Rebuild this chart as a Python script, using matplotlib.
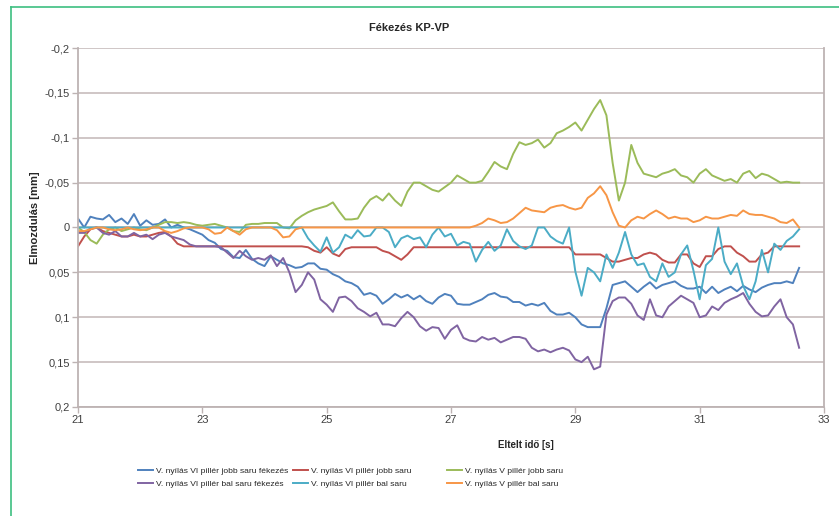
import numpy as np
import matplotlib
matplotlib.use('Agg')
import matplotlib.pyplot as plt
from matplotlib.lines import Line2D
from matplotlib.ticker import FuncFormatter

plt.rcParams['font.family'] = ['Liberation Sans', 'DejaVu Sans']

# time axis, one reading every 0.1 s
t = np.round(np.arange(21.0, 32.61, 0.1), 1)

# displacements in mm (negative = upwards)
jobb_fek = [-0.010, 0.000, -0.012, -0.010, -0.009, -0.014, -0.006, -0.010, -0.004, -0.015,
            -0.002, -0.008, -0.003, -0.004, -0.009, 0.000, -0.003, 0.000, 0.002, 0.005,
            0.008, 0.014, 0.017, 0.024, 0.026, 0.033, 0.034, 0.025, 0.035, 0.040,
            0.043, 0.032, 0.036, 0.040, 0.042, 0.045, 0.044, 0.040, 0.040, 0.046,
            0.047, 0.052, 0.055, 0.060, 0.062, 0.066, 0.075, 0.073, 0.076, 0.085,
            0.080, 0.074, 0.078, 0.075, 0.080, 0.076, 0.082, 0.085, 0.078, 0.074,
            0.076, 0.085, 0.086, 0.086, 0.083, 0.080, 0.075, 0.073, 0.077, 0.078,
            0.083, 0.083, 0.087, 0.085, 0.087, 0.084, 0.093, 0.097, 0.097, 0.095,
            0.100, 0.108, 0.111, 0.111, 0.111, 0.090, 0.064, 0.062, 0.060, 0.066,
            0.072, 0.066, 0.061, 0.068, 0.064, 0.062, 0.060, 0.065, 0.068, 0.068,
            0.066, 0.073, 0.066, 0.073, 0.069, 0.066, 0.071, 0.065, 0.069, 0.072,
            0.067, 0.064, 0.062, 0.062, 0.060, 0.062, 0.045]

jobb_vi = [0.021, 0.010, 0.002, 0.000, 0.004, 0.006, 0.008, 0.010, 0.010, 0.008,
           0.010, 0.010, 0.008, 0.006, 0.005, 0.010, 0.018, 0.021, 0.021, 0.021,
           0.021, 0.021, 0.021, 0.021, 0.021, 0.021, 0.021, 0.021, 0.021, 0.021,
           0.021, 0.021, 0.021, 0.021, 0.021, 0.021, 0.021, 0.022, 0.026, 0.028,
           0.022, 0.029, 0.032, 0.024, 0.022, 0.022, 0.022, 0.022, 0.022, 0.026,
           0.028, 0.032, 0.036, 0.030, 0.022, 0.022, 0.022, 0.022, 0.022, 0.022,
           0.022, 0.022, 0.022, 0.022, 0.022, 0.022, 0.022, 0.022, 0.022, 0.022,
           0.022, 0.022, 0.022, 0.022, 0.022, 0.022, 0.022, 0.022, 0.022, 0.022,
           0.030, 0.030, 0.030, 0.030, 0.030, 0.034, 0.038, 0.038, 0.036, 0.034,
           0.034, 0.030, 0.028, 0.030, 0.036, 0.039, 0.039, 0.030, 0.030, 0.040,
           0.044, 0.032, 0.032, 0.024, 0.021, 0.021, 0.028, 0.032, 0.038, 0.038,
           0.030, 0.028, 0.021, 0.021, 0.021, 0.021, 0.021]

jobb_v = [0.000, 0.005, 0.014, 0.018, 0.008, 0.002, 0.000, 0.004, 0.002, 0.000,
          0.002, 0.003, 0.000, -0.003, -0.006, -0.006, -0.005, -0.006, -0.005, -0.003,
          -0.002, -0.003, -0.004, -0.002, 0.000, 0.004, 0.005, -0.003, -0.004, -0.004,
          -0.005, -0.005, -0.005, 0.000, 0.001, -0.008, -0.013, -0.017, -0.020, -0.022,
          -0.024, -0.028, -0.018, -0.009, -0.009, -0.010, -0.022, -0.031, -0.035, -0.030,
          -0.038, -0.030, -0.024, -0.040, -0.050, -0.050, -0.046, -0.042, -0.040, -0.045,
          -0.050, -0.058, -0.054, -0.050, -0.050, -0.052, -0.062, -0.073, -0.068, -0.065,
          -0.082, -0.095, -0.092, -0.094, -0.098, -0.089, -0.094, -0.105, -0.108, -0.112,
          -0.117, -0.108, -0.120, -0.132, -0.142, -0.125, -0.072, -0.030, -0.050, -0.092,
          -0.072, -0.060, -0.058, -0.056, -0.060, -0.062, -0.065, -0.058, -0.056, -0.050,
          -0.060, -0.065, -0.058, -0.055, -0.052, -0.054, -0.050, -0.060, -0.063, -0.055,
          -0.060, -0.058, -0.054, -0.050, -0.051, -0.050, -0.050]

bal_fek = [0.006, 0.006, 0.001, 0.000, 0.006, 0.008, 0.004, 0.010, 0.010, 0.006,
           0.010, 0.008, 0.013, 0.008, 0.006, 0.010, 0.012, 0.014, 0.019, 0.021,
           0.021, 0.021, 0.021, 0.022, 0.028, 0.034, 0.026, 0.032, 0.036, 0.034,
           0.036, 0.031, 0.043, 0.034, 0.050, 0.072, 0.064, 0.050, 0.058, 0.080,
           0.086, 0.094, 0.078, 0.077, 0.082, 0.090, 0.094, 0.099, 0.095, 0.108,
           0.108, 0.110, 0.101, 0.094, 0.100, 0.110, 0.115, 0.111, 0.112, 0.124,
           0.114, 0.109, 0.123, 0.126, 0.127, 0.122, 0.125, 0.123, 0.128, 0.125,
           0.122, 0.122, 0.124, 0.134, 0.138, 0.136, 0.139, 0.136, 0.134, 0.137,
           0.147, 0.150, 0.144, 0.158, 0.155, 0.097, 0.082, 0.078, 0.078, 0.085,
           0.098, 0.103, 0.080, 0.098, 0.100, 0.088, 0.082, 0.076, 0.080, 0.084,
           0.100, 0.098, 0.088, 0.092, 0.084, 0.080, 0.077, 0.073, 0.085, 0.094,
           0.099, 0.098, 0.088, 0.080, 0.100, 0.108, 0.134]

bal_vi = [0.0] * 37 + [0.012, 0.020, 0.027,
          0.011, 0.028, 0.022, 0.008, 0.012, 0.003, 0.010, 0.009, 0.000, 0.000,
          0.005, 0.022, 0.012, 0.009, 0.013, 0.011, 0.022, 0.008, 0.000, 0.010,
          0.007, 0.020, 0.016, 0.018, 0.038, 0.025, 0.016, 0.026, 0.020, 0.002,
          0.015, 0.021, 0.024, 0.020, 0.000, 0.000, 0.010, 0.015, 0.018, 0.000,
          0.049, 0.076, 0.045, 0.050, 0.060, 0.030, 0.045, 0.028, 0.005, 0.030,
          0.042, 0.040, 0.055, 0.060, 0.040, 0.055, 0.050, 0.030, 0.020, 0.048,
          0.080, 0.042, 0.035, 0.000, 0.038, 0.052, 0.040, 0.065, 0.080, 0.060,
          0.025, 0.050, 0.018, 0.025, 0.015, 0.010, 0.002]

bal_v = [0.004, 0.004, 0.002, 0.000, 0.000, 0.002, 0.003, 0.002, 0.000, 0.002,
         0.003, 0.002, 0.000, 0.000, 0.004, 0.006, 0.004, 0.001, 0.000, 0.000,
         0.000, 0.002, 0.007, 0.006, 0.000, 0.004, 0.008, 0.002, 0.000, 0.000,
         0.000, 0.000, 0.003, 0.011, 0.010, 0.002, 0.000, 0.000, 0.000, 0.000,
         0.000, 0.000, 0.000, 0.000, 0.000, 0.000, 0.000, 0.000, 0.000, 0.000,
         0.000, 0.000, 0.000, 0.000, 0.000, 0.000, 0.000, 0.000, 0.000, 0.000,
         0.000, 0.000, 0.000, 0.000, -0.002, -0.005, -0.010, -0.008, -0.005, -0.006,
         -0.010, -0.016, -0.022, -0.019, -0.018, -0.017, -0.022, -0.024, -0.025, -0.022,
         -0.020, -0.022, -0.033, -0.038, -0.046, -0.036, -0.017, -0.002, 0.000, -0.008,
         -0.012, -0.010, -0.015, -0.019, -0.015, -0.010, -0.012, -0.010, -0.010, -0.006,
         -0.008, -0.012, -0.010, -0.010, -0.012, -0.014, -0.013, -0.019, -0.015, -0.014,
         -0.014, -0.012, -0.010, -0.006, -0.005, -0.009, 0.000]

series = [
    (jobb_fek, '#4f81bd', 'V. nyílás VI pillér jobb saru fékezés'),
    (jobb_vi, '#c0504d', 'V. nyílás VI pillér jobb saru'),
    (jobb_v, '#9bbb59', 'V. nyílás V pillér jobb saru'),
    (bal_fek, '#8064a2', 'V. nyílás VI pillér bal saru fékezés'),
    (bal_vi, '#4bacc6', 'V. nyílás VI pillér bal saru'),
    (bal_v, '#f79646', 'V. nyílás V pillér bal saru'),
]

fig = plt.figure(figsize=(8.39, 5.16), dpi=100)
ax = fig.add_axes([78 / 839, 1 - 407 / 516, 746 / 839, 359 / 516])

lines = []
for vals, col, name in series:
    ln, = ax.plot(t, vals, color=col, lw=1.4, label=name)
    lines.append(ln)

ax.set_xlim(21, 33)
ax.set_ylim(0.2, -0.2)
ax.set_xticks(np.arange(21, 34, 2))
ax.set_yticks(np.arange(-0.2, 0.21, 0.05))

def comma(v, pos):
    s = ('%.2f' % v).rstrip('0').rstrip('.')
    if s in ('-0', '0'):
        return '0'
    return s.replace('.', ',')

ax.yaxis.set_major_formatter(FuncFormatter(comma))
ax.grid(axis='y', color='#cbc2c2', lw=1.3)
ax.set_axisbelow(True)
for side in ['left', 'bottom', 'right']:
    ax.spines[side].set_color('#bdb3b3')
    ax.spines[side].set_linewidth(1.3)
ax.spines['top'].set_visible(False)
ax.tick_params(length=4, width=1, color='#bdb3b3', labelsize=8, labelcolor='#404040', pad=2)

ax.set_ylabel('Elmozdulás [mm]', fontsize=8, fontweight='bold', color='#262626')
ax.yaxis.set_label_coords(-0.051, 0.526)
ax.set_xlabel('Eltelt idő [s]', fontsize=7, fontweight='bold', color='#262626')
ax.xaxis.set_label_coords(0.6, -0.092)

fig.text(409 / 839, 1 - 28 / 516, 'Fékezés KP-VP', ha='center', va='center',
         fontsize=8, fontweight='bold', color='#262626')

# legend: three columns, two rows
col_x = [138, 293, 447]
for i in range(3):
    fig.legend([lines[i], lines[i + 3]], [series[i][2], series[i + 3][2]],
               loc='upper left', bbox_to_anchor=(col_x[i] / 839, 1 - 467 / 516),
               frameon=False, borderpad=0, borderaxespad=0, handlelength=1.8,
               handletextpad=0.3, labelspacing=0.55,
               prop={'size': 6.1}, labelcolor='#262626')

# outer frame
fig.add_artist(Line2D([11 / 839, 11 / 839], [0, 1 - 7 / 516], color='#3dbf80', lw=1.2,
                      transform=fig.transFigure))
fig.add_artist(Line2D([11 / 839, 1], [1 - 7 / 516, 1 - 7 / 516], color='#3dbf80', lw=1.2,
                      transform=fig.transFigure))

fig.savefig('out.png', dpi=100)
